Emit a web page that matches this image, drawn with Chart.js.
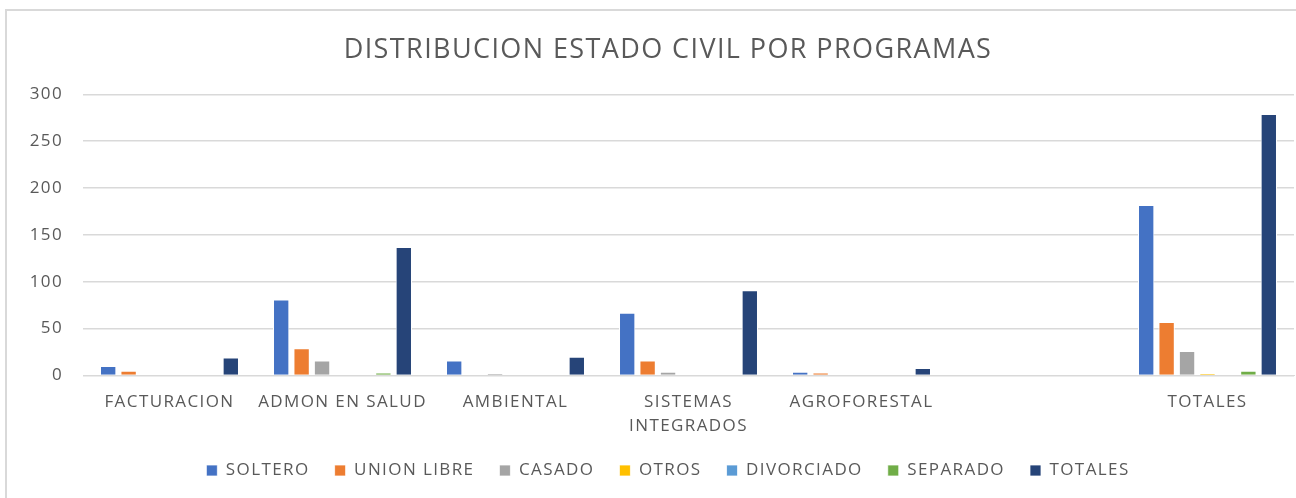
<!DOCTYPE html>
<html>
<head>
<meta charset="utf-8">
<script src="https://cdn.jsdelivr.net/npm/chart.js@4"></script>
<style>
  body { margin: 0; background: #fff; }
  #marco {
    position: absolute; left: 5px; top: 9px;
    width: 1300px; height: 500px;
    border-left: 2px solid #d9d9d9; border-top: 2px solid #d9d9d9;
  }
  #contenedor { position: absolute; left: 0; top: 0; width: 1289px; height: 487px; }
</style>
</head>
<body>
<div id="marco"><div id="contenedor"><canvas id="miGrafica"></canvas></div></div>
<script>
// Programas (hay una categoria vacia antes de TOTALES)
const programas = ['FACTURACION', 'ADMON EN SALUD', 'AMBIENTAL', ['SISTEMAS', 'INTEGRADOS'], 'AGROFORESTAL', '', 'TOTALES'];

const soltero    = [10, 81, 16, 67, 4, 0, 182];
const unionLibre = [5, 29, 0, 16, 3, 0, 57];
const casado     = [0, 16, 2, 4, 0, 0, 26];
const otros      = [0, 0, 0, 0, 0, 0, 2];
const divorciado = [0, 0, 0, 0, 0, 0, 0];
const separado   = [0, 3, 0, 0, 0, 0, 5];
const totales    = [19, 137, 20, 91, 8, 0, 279];

const ticksY = [0, 50, 100, 150, 200, 250, 300];

const fuente = "'Open Sans', sans-serif";
const gris = '#595959';

// el texto del original es mas ancho, se abre un poco el espaciado
// y el titulo y la leyenda van algo corridos a la derecha
const ajustes = {
    id: 'ajustes',
    beforeUpdate: chart => { chart.ctx.letterSpacing = '1.4px'; },
    afterLayout: chart => {
        chart.titleBlock.left += 33;
        chart.legend.left += 33;
    },
    beforeDraw: chart => { chart.ctx.letterSpacing = '1.4px'; }
};

function serie(label, data, color) {
    return {
        label: label,
        data: data,
        backgroundColor: color,
        borderColor: '#ffffff',
        borderWidth: { top: 1, left: 1, right: 1, bottom: 0 },
        categoryPercentage: 0.827,
        barPercentage: 0.8
    };
}

const datasets = [
    serie('SOLTERO', soltero, '#4472C4'),
    serie('UNION LIBRE', unionLibre, '#ED7D31'),
    serie('CASADO', casado, '#A5A5A5'),
    serie('OTROS', otros, '#FFC000'),
    serie('DIVORCIADO', divorciado, '#5B9BD5'),
    serie('SEPARADO', separado, '#70AD47'),
    serie('TOTALES', totales, '#264478')
];

let ctx = document.getElementById('miGrafica').getContext('2d');
let miGrafica = new Chart(ctx, {
    type: 'bar',
    data: {
        labels: programas,
        datasets: datasets
    },
    plugins: [ajustes],
    options: {
        responsive: true,
        maintainAspectRatio: false,
        animation: false,
        layout: { padding: { left: 2, right: 2, top: 8, bottom: 9 } },
        plugins: {
            title: {
                display: true,
                text: 'DISTRIBUCION ESTADO CIVIL POR PROGRAMAS',
                color: gris,
                font: { family: fuente, size: 27, weight: 'normal' },
                padding: { top: 15, bottom: 28 }
            },
            legend: {
                position: 'bottom',
                labels: {
                    color: gris,
                    font: { family: fuente, size: 17 },
                    boxWidth: 11,
                    boxHeight: 11,
                    padding: 25
                }
            },
            tooltip: { enabled: false }
        },
        scales: {
            x: {
                grid: { display: false },
                border: { color: '#d9d9d9' },
                afterFit: s => { s.height -= 8; },
                ticks: {
                    color: gris,
                    font: { family: fuente, size: 17, lineHeight: 1.4 },
                    maxRotation: 0,
                    autoSkip: false,
                    padding: 7
                }
            },
            y: {
                min: ticksY[0],
                max: ticksY[ticksY.length - 1],
                afterBuildTicks: axis => { axis.ticks = ticksY.map(v => ({ value: v })); },
                afterFit: s => { s.width = 74; },
                grid: { color: '#d9d9d9', lineWidth: 1.5, drawTicks: false },
                border: { display: false },
                ticks: {
                    color: gris,
                    font: { family: fuente, size: 17 },
                    padding: 20
                }
            }
        }
    }
});
</script>
</body>
</html>
